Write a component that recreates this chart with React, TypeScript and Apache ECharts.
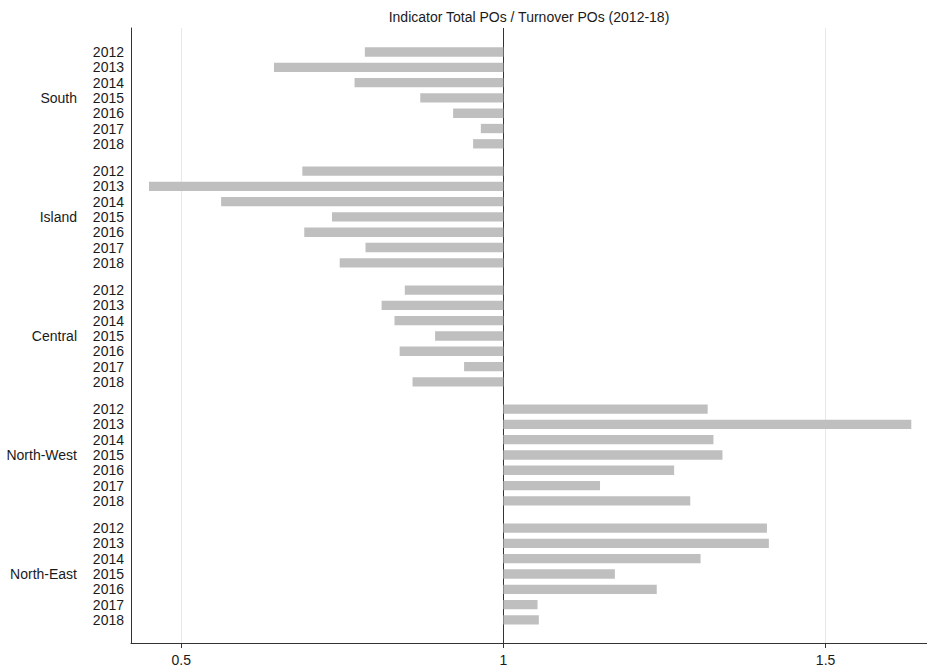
import React, { useEffect, useRef } from "react";
import * as echarts from "echarts";

const regions = ["South", "Island", "Central", "North-West", "North-East"];
const years = ["2012", "2013", "2014", "2015", "2016", "2017", "2018"];
const southValues = [0.785, 0.644, 0.769, 0.871, 0.922, 0.965, 0.953];
const islandValues = [0.688, 0.45, 0.562, 0.734, 0.691, 0.786, 0.746];
const centralValues = [0.847, 0.811, 0.831, 0.894, 0.839, 0.939, 0.859];
const northWestValues = [1.317, 1.633, 1.326, 1.34, 1.265, 1.15, 1.29];
const northEastValues = [1.409, 1.412, 1.306, 1.173, 1.238, 1.053, 1.055];
const xTickValues = [0.5, 1, 1.5];
const baseValue = 1;
const titleText = "Indicator Total POs / Turnover POs (2012-18)";

const GROUP_STRIDE = 7.78;
const FONT = "'Liberation Sans', Arial, sans-serif";

export default function App() {
  const ref = useRef<HTMLDivElement>(null);
  useEffect(() => {
    if (!ref.current) return;
    const chart = echarts.init(ref.current, undefined, { renderer: "svg" });
    const allValues = [southValues, islandValues, centralValues, northWestValues, northEastValues];
    const data: any[] = [];
    allValues.forEach((vals, g) => {
      vals.forEach((v, i) => {
        data.push([v, g * GROUP_STRIDE + i, years[i], i === 3 ? regions[g] : ""]);
      });
    });
    chart.setOption({
      animation: false,
      graphic: [
        {
          type: "text",
          x: 529,
          y: 17,
          style: {
            text: titleText,
            fill: "#1a1a1a",
            font: `14px ${FONT}`,
            textAlign: "center",
            textVerticalAlign: "middle",
          },
        },
      ],
      grid: { left: 131, right: 0, top: 28, bottom: 25, containLabel: false },
      xAxis: {
        type: "value",
        min: 0.4221,
        max: 1.6574,
        axisLine: { show: true, onZero: false, lineStyle: { color: "#333", width: 1 } },
        axisTick: {
          show: true,
          customValues: xTickValues,
          length: 5,
          inside: false,
          lineStyle: { color: "#333" },
        },
        axisLabel: {
          customValues: xTickValues,
          color: "#1a1a1a",
          fontFamily: FONT,
          fontSize: 14,
          margin: 10,
          formatter: (v: number) => String(v),
        },
        splitLine: { show: false },
      },
      yAxis: {
        type: "value",
        inverse: true,
        min: -1.57,
        max: 38.63,
        axisLine: { show: true, lineStyle: { color: "#333", width: 1 } },
        axisTick: { show: false },
        axisLabel: { show: false },
        splitLine: { show: false },
      },
      series: [
        {
          type: "custom",
          clip: false,
          data,
          encode: { x: 0, y: 1 },
          renderItem: (params: any, api: any) => {
            const v = api.value(0);
            const pos = api.value(1);
            const year = api.value(2);
            const region = api.value(3);
            const p0 = api.coord([baseValue, pos]);
            const p1 = api.coord([v, pos]);
            const pLeft = api.coord([0.4221, pos]);
            const h = api.size([0, 1])[1] * 0.61;
            const children: any[] = [
              {
                type: "rect",
                shape: {
                  x: Math.min(p0[0], p1[0]),
                  y: p0[1] - h / 2,
                  width: Math.abs(p1[0] - p0[0]),
                  height: h,
                },
                style: { fill: "#bfbfbf" },
              },
              {
                type: "text",
                x: pLeft[0] - 7,
                y: p0[1],
                style: {
                  text: String(year),
                  fill: "#1a1a1a",
                  font: `14px ${FONT}`,
                  textAlign: "right",
                  textVerticalAlign: "middle",
                },
              },
            ];
            if (region) {
              children.push({
                type: "text",
                x: pLeft[0] - 54,
                y: p0[1],
                style: {
                  text: String(region),
                  fill: "#1a1a1a",
                  font: `14px ${FONT}`,
                  textAlign: "right",
                  textVerticalAlign: "middle",
                },
              });
            }
            return { type: "group", children };
          },
          markLine: {
            silent: true,
            symbol: "none",
            label: { show: false },
            data: [
              { xAxis: 0.5, lineStyle: { color: "#e8e8e8", width: 1, type: "solid" } },
              { xAxis: 1.5, lineStyle: { color: "#e8e8e8", width: 1, type: "solid" } },
              { xAxis: baseValue, lineStyle: { color: "#333", width: 1, type: "solid" } },
            ],
            z: 1,
          },
          z: 2,
        },
      ],
    });
    return () => chart.dispose();
  }, []);
  return (
    <div
      ref={ref}
      style={{ position: "fixed", left: 0, top: 0, width: 927, height: 668, background: "#fff" }}
    />
  );
}
